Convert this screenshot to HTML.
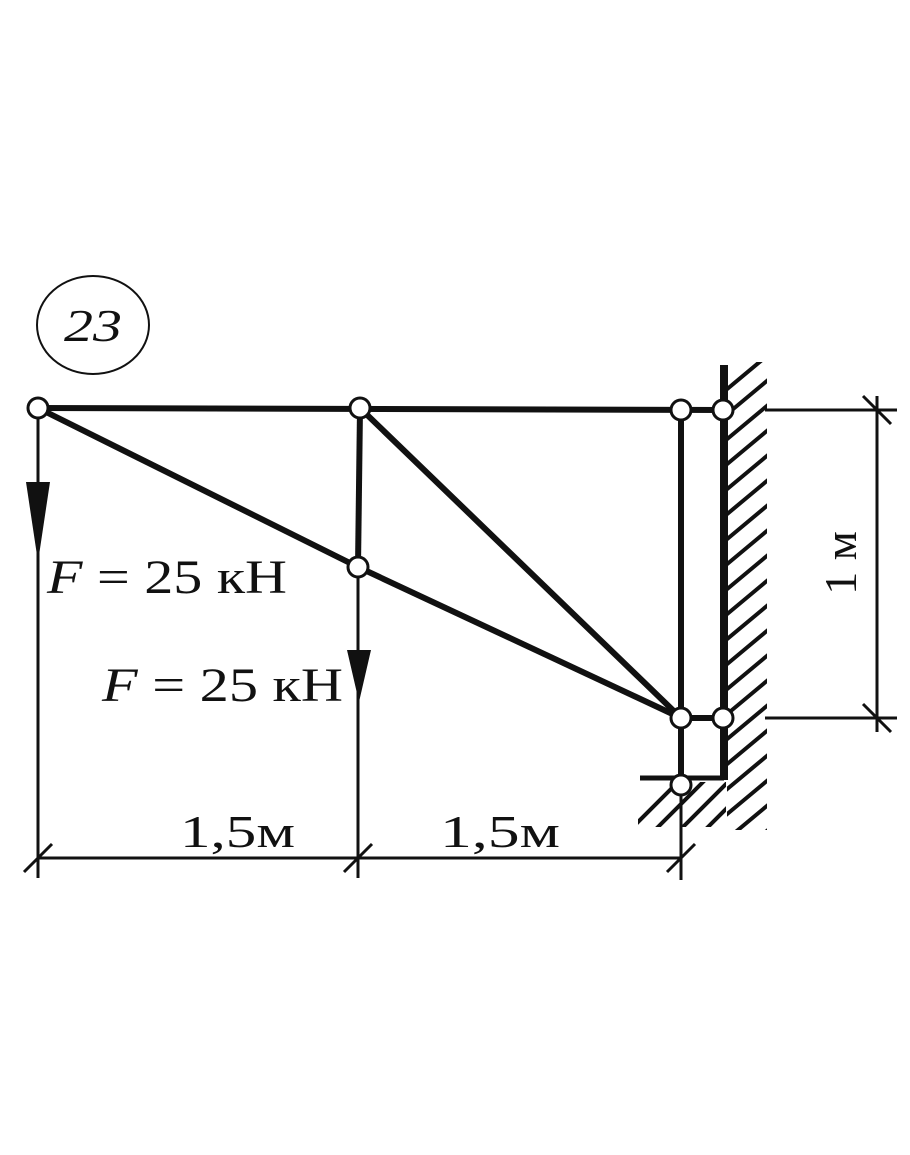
<!DOCTYPE html>
<html><head><meta charset="utf-8"><style>body{margin:0;background:#fff}svg{display:block}text{font-family:"Liberation Serif",serif;fill:#111}</style></head><body>
<svg width="910" height="1155" viewBox="0 0 910 1155" xmlns="http://www.w3.org/2000/svg">
<defs>
<clipPath id="w"><rect x="727" y="362" width="40" height="468"/></clipPath>
<clipPath id="b"><rect x="638" y="782" width="88" height="45"/></clipPath>
</defs>
<g stroke="#111" fill="none">
<ellipse cx="93" cy="325" rx="56" ry="49" stroke-width="2"/>
<g stroke-width="6">
<line x1="38" y1="408" x2="723" y2="410"/>
<line x1="38" y1="408" x2="358" y2="567"/>
<line x1="358" y1="567" x2="681" y2="718"/>
<line x1="360" y1="408" x2="681" y2="718"/>
<line x1="360" y1="408" x2="358" y2="567"/>
<line x1="681" y1="410" x2="681" y2="785"/>
<line x1="681" y1="718" x2="723" y2="718"/>
</g>
<line x1="724" y1="365" x2="724" y2="780" stroke-width="8"/>
<line x1="640" y1="778" x2="724" y2="778" stroke-width="5"/>
<g clip-path="url(#w)" stroke-width="4">
<path d="M720 395 L780 345 M720 420 L780 370 M720 445 L780 395 M720 470 L780 420 M720 495 L780 445 M720 520 L780 470 M720 545 L780 495 M720 570 L780 520 M720 595 L780 545 M720 620 L780 570 M720 645 L780 595 M720 670 L780 620 M720 695 L780 645 M720 720 L780 670 M720 745 L780 695 M720 770 L780 720 M720 795 L780 745 M720 820 L780 770 M720 845 L780 795 M720 870 L780 820"/>
</g>
<g clip-path="url(#b)" stroke-width="4">
<path d="M630 830 L680 780 M655 830 L705 780 M680 830 L730 780 M705 830 L755 780"/>
</g>
<g stroke-width="3">
<line x1="38" y1="408" x2="38" y2="878"/>
<line x1="358" y1="567" x2="358" y2="878"/>
<line x1="681" y1="785" x2="681" y2="880"/>
<line x1="38" y1="858" x2="681" y2="858"/>
<line x1="765" y1="410" x2="897" y2="410"/>
<line x1="765" y1="718" x2="897" y2="718"/>
<line x1="877" y1="396" x2="877" y2="732"/>
<line x1="24" y1="872" x2="52" y2="844"/>
<line x1="344" y1="872" x2="372" y2="844"/>
<line x1="667" y1="872" x2="695" y2="844"/>
<line x1="863" y1="396" x2="891" y2="424"/>
<line x1="863" y1="704" x2="891" y2="732"/>
</g>
</g>
<polygon points="26,482 50,482 38,562" fill="#111"/>
<polygon points="347,650 371,650 359,702" fill="#111"/>
<g fill="#fff" stroke="#111" stroke-width="3">
<circle cx="38" cy="408" r="10"/><circle cx="360" cy="408" r="10"/>
<circle cx="681" cy="410" r="10"/><circle cx="723" cy="410" r="10"/>
<circle cx="358" cy="567" r="10"/><circle cx="681" cy="718" r="10"/>
<circle cx="723" cy="718" r="10"/><circle cx="681" cy="785" r="10"/>
</g>
<text x="64" y="341" font-size="46" font-style="italic" textLength="58" lengthAdjust="spacingAndGlyphs">23</text>
<text x="47" y="593" font-size="48" textLength="240" lengthAdjust="spacingAndGlyphs"><tspan font-style="italic">F</tspan> = 25 кН</text>
<text x="102" y="701" font-size="48" textLength="241" lengthAdjust="spacingAndGlyphs"><tspan font-style="italic">F</tspan> = 25 кН</text>
<text x="180" y="847" font-size="46" textLength="115" lengthAdjust="spacingAndGlyphs">1,5м</text>
<text x="440" y="847" font-size="46" textLength="120" lengthAdjust="spacingAndGlyphs">1,5м</text>
<text transform="translate(856,563) rotate(-90)" font-size="46" text-anchor="middle">1 м</text>
</svg>
</body></html>
